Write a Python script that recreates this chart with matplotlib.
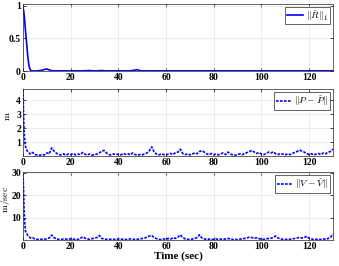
import numpy as np
import matplotlib
matplotlib.use("Agg")
import matplotlib.pyplot as plt

plt.rcParams["mathtext.fontset"] = "cm"
plt.rcParams["font.family"] = "Liberation Serif"

# time: fine samples during the initial transient, then 1 s steps
t_head = [0, 0.25, 0.5, 0.75, 1, 1.5, 2, 2.5, 3, 3.5]
t_body = list(range(4, 131))
time = np.array(t_head + t_body, dtype=float)

# attitude error ||R~||_1
r_head = [0.97, 0.93, 0.85, 0.75, 0.63, 0.42, 0.22, 0.08, 0.02, 0.005]
r_body = [
    0.002, 0.001, 0.003, 0.008, 0.012, 0.025, 0.03, 0.018, 0.006, 0.003,  # 4-13
    0.002, 0.003, 0.002, 0.004, 0.003, 0.002, 0.003, 0.004, 0.002, 0.003,  # 14-23
    0.002, 0.003, 0.004, 0.006, 0.008, 0.004, 0.003, 0.002, 0.005, 0.008,  # 24-33
    0.004, 0.002, 0.003, 0.002, 0.003, 0.002, 0.003, 0.002, 0.003, 0.002,  # 34-43
    0.003, 0.004, 0.008, 0.015, 0.02, 0.006, 0.003, 0.002, 0.003, 0.002,   # 44-53
    0.003, 0.004, 0.002, 0.003, 0.002, 0.003, 0.002, 0.003, 0.002, 0.003,  # 54-63
    0.002, 0.003, 0.002, 0.003, 0.002, 0.003, 0.002, 0.003, 0.002, 0.003,  # 64-73
    0.002, 0.003, 0.002, 0.003, 0.002, 0.003, 0.002, 0.003, 0.002, 0.003,  # 74-83
    0.002, 0.003, 0.002, 0.003, 0.002, 0.003, 0.002, 0.003, 0.002, 0.003,  # 84-93
    0.002, 0.003, 0.002, 0.003, 0.002, 0.003, 0.002, 0.003, 0.002, 0.003,  # 94-103
    0.002, 0.003, 0.002, 0.003, 0.002, 0.003, 0.002, 0.003, 0.002, 0.003,  # 104-113
    0.002, 0.003, 0.002, 0.003, 0.002, 0.003, 0.002, 0.003, 0.002, 0.003,  # 114-123
    0.002, 0.003, 0.002, 0.003, 0.002, 0.003, 0.002,                       # 124-130
]

# position error ||P - P^|| (m)
p_head = [4.75, 2.7, 1.6, 1.0, 0.7, 0.45, 0.3, 0.22, 0.15, 0.25]
p_body = [
    0.25, 0.10, 0.08, 0.06, 0.10, 0.08, 0.22, 0.15, 0.58, 0.35,  # 4-13
    0.20, 0.10, 0.08, 0.15, 0.06, 0.14, 0.10, 0.18, 0.08, 0.14,  # 14-23
    0.10, 0.25, 0.12, 0.08, 0.15, 0.06, 0.10, 0.14, 0.22, 0.35,  # 24-33
    0.40, 0.22, 0.10, 0.08, 0.15, 0.10, 0.14, 0.08, 0.18, 0.12,  # 34-43
    0.16, 0.08, 0.22, 0.10, 0.06, 0.10, 0.08, 0.15, 0.22, 0.38,  # 44-53
    0.65, 0.28, 0.14, 0.08, 0.16, 0.10, 0.08, 0.14, 0.18, 0.10,  # 54-63
    0.25, 0.28, 0.48, 0.18, 0.10, 0.16, 0.08, 0.14, 0.22, 0.16,  # 64-73
    0.32, 0.38, 0.28, 0.16, 0.10, 0.18, 0.10, 0.14, 0.08, 0.16,  # 74-83
    0.22, 0.10, 0.28, 0.14, 0.08, 0.06, 0.10, 0.16, 0.10, 0.18,  # 84-93
    0.25, 0.32, 0.40, 0.28, 0.18, 0.25, 0.14, 0.10, 0.18, 0.28,  # 94-103
    0.22, 0.30, 0.16, 0.10, 0.18, 0.14, 0.08, 0.16, 0.10, 0.18,  # 104-113
    0.26, 0.32, 0.42, 0.35, 0.28, 0.18, 0.10, 0.16, 0.08, 0.14,  # 114-123
    0.18, 0.10, 0.22, 0.16, 0.28, 0.32, 0.50,                    # 124-130
]

# velocity error ||V - V^|| (m/sec)
v_head = [29.5, 20.0, 12.0, 7.0, 4.0, 3.0, 2.0, 1.5, 1.0, 0.8]
v_body = [
    1.0, 0.4, 0.3, 0.2, 0.4, 0.3, 0.6, 0.9, 2.2, 1.0,  # 4-13
    0.5, 0.3, 0.2, 0.5, 0.4, 0.2, 0.6, 0.3, 0.4, 0.2,  # 14-23
    0.7, 1.4, 0.8, 0.5, 0.3, 0.6, 0.8, 1.1, 2.0, 0.7,  # 24-33
    0.5, 0.3, 0.2, 0.4, 0.3, 0.2, 0.5, 0.3, 0.4, 0.2,  # 34-43
    0.3, 0.5, 0.2, 0.4, 0.3, 0.5, 0.7, 0.9, 1.3, 1.8,  # 44-53
    2.0, 1.1, 0.6, 0.3, 0.2, 0.5, 0.3, 0.7, 0.4, 1.1,  # 54-63
    0.7, 1.3, 2.3, 1.1, 0.5, 0.3, 0.2, 0.4, 0.7, 1.1,  # 64-73
    2.3, 0.9, 0.5, 0.3, 0.4, 0.2, 0.3, 0.5, 0.2, 0.4,  # 74-83
    0.3, 0.5, 0.7, 0.4, 0.2, 0.3, 0.2, 0.4, 0.5, 0.7,  # 84-93
    0.9, 1.3, 1.1, 0.7, 1.0, 0.6, 0.4, 0.3, 0.5, 0.7,  # 94-103
    0.8, 1.1, 1.8, 0.9, 0.5, 0.3, 0.2, 0.4, 0.3, 0.5,  # 104-113
    0.7, 0.9, 1.2, 0.9, 1.1, 1.7, 0.8, 0.5, 0.2, 0.3,  # 114-123
    0.4, 0.2, 0.5, 0.3, 0.7, 1.1, 2.8,                 # 124-130
]

series = [
    (r_head + r_body, "-", r"$\|\tilde{R}\|_1$", None, (0, 1.03), [0, 0.5, 1], ["0", "0.5", "1"]),
    (p_head + p_body, "--", r"$\|P-\hat{P}\|$", r"$\mathrm{m}$", (0, 4.8), [1, 2, 3, 4], ["1", "2", "3", "4"]),
    (v_head + v_body, "--", r"$\|V-\hat{V}\|$", r"$\mathrm{m/sec}$", (0, 30.4), [10, 20, 30], ["10", "20", "30"]),
]

fig = plt.figure(figsize=(3.39, 2.66), dpi=100)
positions = [
    [0.068, 0.733, 0.914, 0.252],
    [0.068, 0.4135, 0.914, 0.252],
    [0.068, 0.0977, 0.914, 0.256],
]

for pos, (vals, ls, lab, ylab, ylim, yt, ytl) in zip(positions, series):
    ax = fig.add_axes(pos)
    if ls == "--":
        ax.plot(time, vals, color="blue", linewidth=1.2, label=lab, dashes=(1.6, 0.8))
    else:
        ax.plot(time, vals, color="blue", linewidth=1.2, label=lab)
    ax.set_xlim(0, 130)
    ax.set_ylim(*ylim)
    ax.set_xticks(range(0, 121, 20))
    ax.set_xticklabels([str(v) for v in range(0, 121, 20)], fontweight="bold")
    ax.set_yticks(yt)
    ax.set_yticklabels(ytl, fontweight="bold")
    ax.tick_params(direction="in", length=2.5, width=0.5, labelsize=7, pad=1.5,
                   top=True, right=True)
    ax.grid(True, color="#e6e6e6", linewidth=0.5)
    ax.set_axisbelow(True)
    for s in ax.spines.values():
        s.set_linewidth(0.5)
        s.set_color("#262626")
    if ylab:
        ax.set_ylabel(ylab, fontsize=7)
        ax.yaxis.set_label_coords(-0.037, 0.6)
    leg = ax.legend(loc="upper right", fontsize=7, fancybox=False, framealpha=1,
                    edgecolor="#262626", borderpad=0.2, handlelength=1.6,
                    handletextpad=0.3, borderaxespad=0.3)
    leg.get_frame().set_linewidth(0.5)
    if ylab == r"$\mathrm{m/sec}$":
        ax.set_xlabel("Time (sec)", fontsize=8, fontweight="bold", labelpad=0)

fig.savefig("out.png", dpi=100)
